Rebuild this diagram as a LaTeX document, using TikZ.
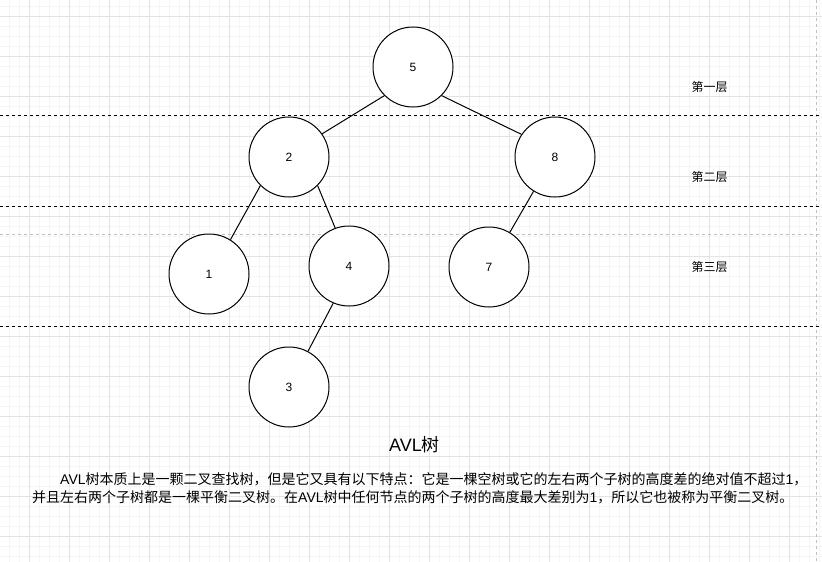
\documentclass[tikz,border=0pt]{standalone}
\usepackage{fontspec}
\setmainfont{Liberation Sans}
\newfontfamily\cjk{Noto Sans CJK SC}
\begin{document}
\begin{tikzpicture}[x=1pt,y=-1pt,
  minorgrid/.style={draw=black!4,line width=0.5pt},
  majorgrid/.style={draw=black!11,line width=0.8pt},
  pagebreak/.style={draw=black!25,line width=0.8pt,dash pattern=on 3pt off 3pt},
  layerline/.style={draw=black,line width=1pt,dash pattern=on 3pt off 3pt},
  treenode/.style={circle,draw=black,line width=1pt,minimum size=80pt,inner sep=0pt,font=\fontsize{12}{14}\selectfont,fill=white},
  edge/.style={draw=black,line width=1pt},
  layerlabel/.style={font=\cjk\fontsize{12}{14}\selectfont,inner sep=0pt},
  titletext/.style={font=\fontsize{18}{22}\selectfont,inner sep=0pt},
  bodytext/.style={font=\fontsize{14}{17}\selectfont,inner sep=0pt,anchor=west}
]
\useasboundingbox (0,0) rectangle (822,562);
\fill[white] (0,0) rectangle (822,562);
% grid
\foreach \gx in {-0.7,9.3,...,822} {\draw[minorgrid] (\gx,0) -- (\gx,562);}
\foreach \gy in {6,16,...,562} {\draw[minorgrid] (0,\gy) -- (822,\gy);}
\foreach \gx in {29.3,69.3,...,822} {\draw[majorgrid] (\gx,0) -- (\gx,562);}
\foreach \gy in {16,56,...,562} {\draw[majorgrid] (0,\gy) -- (822,\gy);}
% page breaks
\draw[pagebreak] (0,234) -- (822,234);
\draw[pagebreak] (816.7,0) -- (816.7,562);
% layer separators
\draw[layerline] (0,115.3) -- (822,115.3);
\draw[layerline] (0,206) -- (822,206);
\draw[layerline] (0,326) -- (822,326);
% nodes
\node[treenode] (n5) at (413,67) {5};
\node[treenode] (n2) at (289,157) {2};
\node[treenode] (n8) at (555,157) {8};
\node[treenode] (n1) at (209,274) {1};
\node[treenode] (n4) at (349,266) {4};
\node[treenode] (n7) at (489,267) {7};
\node[treenode] (n3) at (289,387) {3};
% edges
\draw[edge] (n5.-135) -- (n2.35);
\draw[edge] (n5.-45) -- (n8.146);
\draw[edge] (n2.-135) -- (n1.58);
\draw[edge] (n2.-45) -- (n4.110);
\draw[edge] (n8.-122) -- (n7.59);
\draw[edge] (n4.-113) -- (n3.62);
% layer labels
\node[layerlabel] (l1) at (709.5,87) {第一层};
\node[layerlabel] (l2) at (709.5,177) {第二层};
\node[layerlabel] (l3) at (709.5,267) {第三层};
% title and description
\node[titletext] (title) at (414.5,445) {AVL{\cjk 树}};
\node[bodytext] (line1) at (60,479) {AVL{\cjk 树本质上是一颗二叉查找树，但是它又具有以下特点：它是一棵空树或它的左右两个子树的高度差的绝对值不超过}1{\cjk ，}};
\node[bodytext] (line2) at (32,497) {{\cjk 并且左右两个子树都是一棵平衡二叉树。在}AVL{\cjk 树中任何节点的两个子树的高度最大差别为}1{\cjk ，所以它也被称为平衡二叉树。}};
\end{tikzpicture}
\end{document}
